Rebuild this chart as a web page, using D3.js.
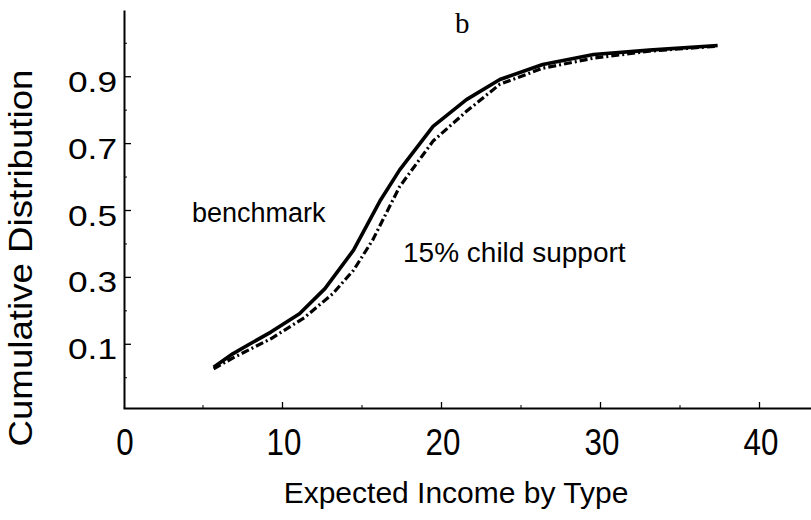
<!DOCTYPE html>
<html lang="en">
<head>
<meta charset="utf-8">
<title>Cumulative Distribution (b)</title>
<script src="https://d3js.org/d3.v7.min.js"></script>
<style type="text/css">
body { margin: 0; background: #fff; }
svg  { display: block; }
.axis path, .axis line { stroke: #000; }
.axis text { font-family: "Liberation Sans", Arial, sans-serif; fill: #000; }
.lbl { font-family: "Liberation Sans", Arial, sans-serif; fill: #000; }
</style>
</head>
<body>
<script type="text/javascript">

// curve values
var incomeBench  = [5.7, 6.9, 8.0, 9.3, 11.1, 12.7, 14.5, 16.2, 17.4, 19.5, 21.6, 23.7, 26.4, 29.6, 33.1, 37.4];
var cdfBench     = [0.03, 0.07, 0.10, 0.135, 0.19, 0.265, 0.38, 0.53, 0.62, 0.75, 0.83, 0.89, 0.935, 0.965, 0.978, 0.992];
var incomeChild  = [5.7, 7.0, 9.3, 11.4, 13.2, 14.5, 15.7, 17.4, 19.5, 21.6, 23.7, 26.4, 29.6, 33.1, 37.4];
var cdfChild     = [0.025, 0.06, 0.115, 0.178, 0.25, 0.32, 0.41, 0.57, 0.706, 0.795, 0.876, 0.924, 0.954, 0.975, 0.99];

var xTicks = [10, 20, 30, 40];
var xLabels = [0, 10, 20, 30, 40];
var xMinor = [5, 15, 25, 35];
var yTicks = [0.1, 0.3, 0.5, 0.7, 0.9];
var yMinor = [0, 0.2, 0.4, 0.6, 0.8, 1.0];

var W = 811, H = 520;

var svg = d3.select("body").append("svg")
    .attr("width", W)
    .attr("height", H);

var x = d3.scaleLinear().domain([0, 43.27]).range([123, 811]);
var y = d3.scaleLinear().domain([-0.092, 1.098]).range([408, 10]);

// x axis: ticks point up into the plot
var xAxis = svg.append("g")
    .attr("class", "axis")
    .attr("transform", "translate(0," + 408 + ")")
    .call(d3.axisBottom(x).tickValues(xTicks).tickSizeInner(-6).tickSizeOuter(0).tickFormat(""));
xAxis.select(".domain").attr("stroke-width", 2);
xAxis.selectAll(".tick line").attr("stroke-width", 1.3);

svg.append("g")
    .attr("class", "axis")
    .attr("transform", "translate(0," + 408 + ")")
    .call(d3.axisBottom(x).tickValues(xMinor).tickSizeInner(-3).tickSizeOuter(0).tickFormat(""))
    .call(function(g) { g.select(".domain").remove(); });

// x labels (narrow, tall digits)
svg.selectAll(".xlbl")
    .data(xLabels)
    .enter()
    .append("text")
    .attr("class", "lbl xlbl")
    .attr("x", function(d) { return x(d) + 2; })
    .attr("y", 455)
    .attr("text-anchor", "middle")
    .attr("font-size", 36)
    .text(function(d) { return d; })
    .each(function() {
        var w = this.getComputedTextLength();
        d3.select(this).attr("textLength", w * 0.87).attr("lengthAdjust", "spacingAndGlyphs");
    });

// y axis: ticks point right into the plot
var yAxis = svg.append("g")
    .attr("class", "axis")
    .attr("transform", "translate(" + 124 + ",0)")
    .call(d3.axisLeft(y).tickValues(yTicks).tickSizeInner(-7).tickSizeOuter(0).tickPadding(7)
        .tickFormat(d3.format(".1f")));
yAxis.select(".domain").attr("stroke-width", 2);
yAxis.selectAll(".tick line").attr("stroke-width", 1.3);
yAxis.selectAll(".tick text")
    .attr("font-size", 30)
    .attr("dy", "0.5em")
    .attr("textLength", 49)
    .attr("lengthAdjust", "spacingAndGlyphs");

svg.append("g")
    .attr("class", "axis")
    .attr("transform", "translate(" + 124 + ",0)")
    .call(d3.axisLeft(y).tickValues(yMinor).tickSizeInner(-3).tickSizeOuter(0).tickFormat(""))
    .call(function(g) { g.select(".domain").remove(); });

// curves
var line = d3.line()
    .x(function(d) { return x(d[0]); })
    .y(function(d) { return y(d[1]); });

svg.append("path")
    .datum(d3.zip(incomeChild, cdfChild))
    .attr("d", line)
    .attr("fill", "none")
    .attr("stroke", "#000")
    .attr("stroke-width", 3.2)
    .attr("stroke-dasharray", "8,3,2,3");

svg.append("path")
    .datum(d3.zip(incomeBench, cdfBench))
    .attr("d", line)
    .attr("fill", "none")
    .attr("stroke", "#000")
    .attr("stroke-width", 3.6)
    .attr("stroke-linejoin", "round");

// labels
svg.append("text")
    .attr("class", "lbl")
    .attr("x", 192).attr("y", 222)
    .attr("font-size", 27)
    .text("benchmark");

svg.append("text")
    .attr("class", "lbl")
    .attr("x", 403).attr("y", 262)
    .attr("font-size", 28)
    .text("15% child support");

svg.append("text")
    .attr("x", 455).attr("y", 33)
    .attr("font-family", "'Liberation Serif', 'Times New Roman', serif")
    .attr("font-size", 29)
    .text("b");

svg.append("text")
    .attr("class", "lbl")
    .attr("x", 456).attr("y", 503)
    .attr("text-anchor", "middle")
    .attr("font-size", 30)
    .text("Expected Income by Type");

svg.append("text")
    .attr("class", "lbl")
    .attr("transform", "translate(32," + 258 + ") rotate(-90)")
    .attr("text-anchor", "middle")
    .attr("font-size", 34)
    .attr("textLength", 377)
    .attr("lengthAdjust", "spacingAndGlyphs")
    .text("Cumulative Distribution");

</script>
</body>
</html>
